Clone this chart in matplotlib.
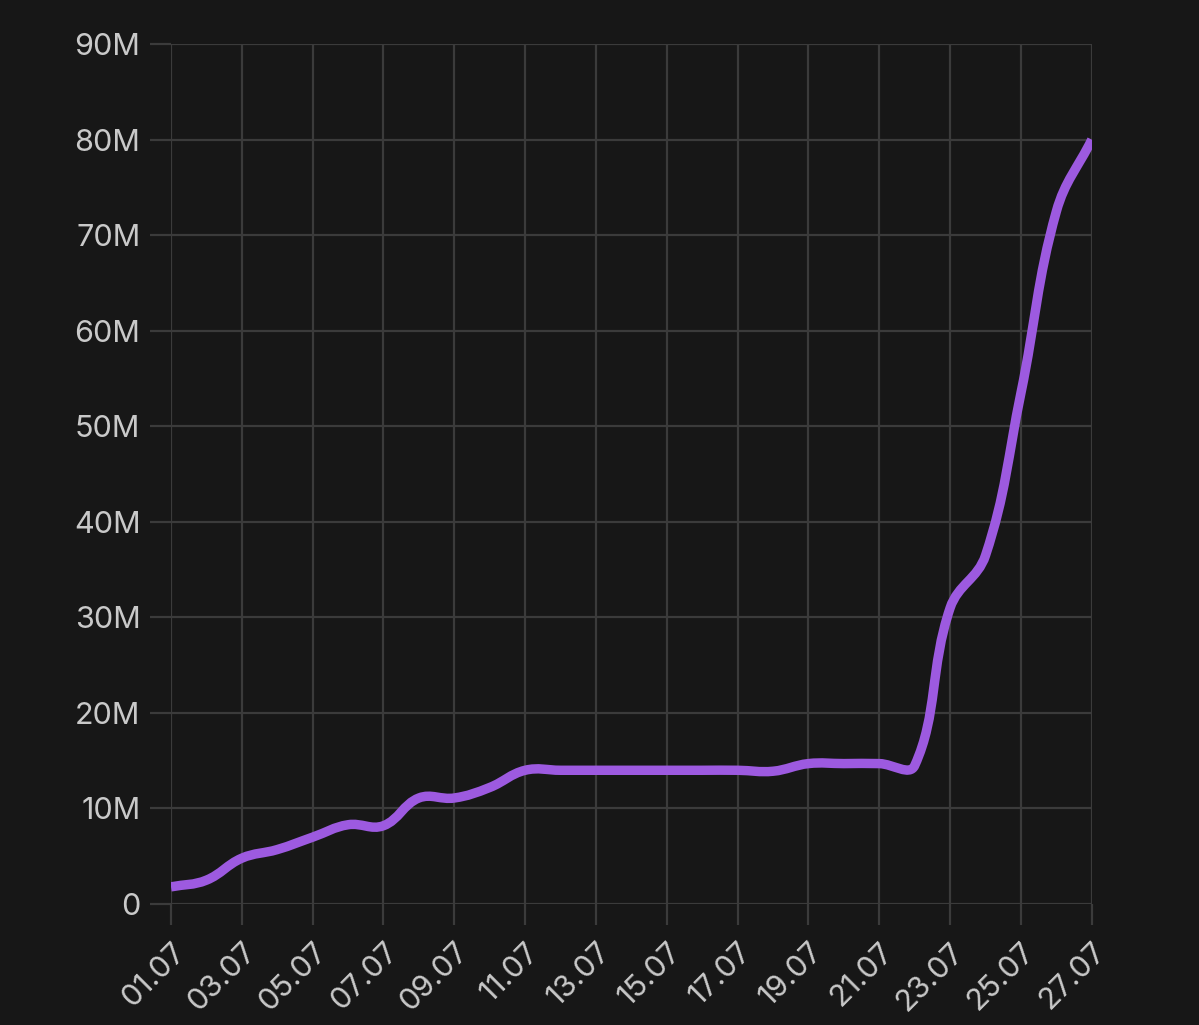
import matplotlib
matplotlib.use('Agg')
import matplotlib.pyplot as plt
from matplotlib.path import Path
from matplotlib.patches import PathPatch
from matplotlib.ticker import FuncFormatter
import numpy as np

# daily values (millions), 01.07 - 27.07
days = list(range(1, 28))
values = [1.8, 2.5, 4.8, 5.7, 7.0, 8.3, 8.2, 11.1, 11.1, 12.2, 14.0, 14.0, 14.0,
          14.0, 14.0, 14.0, 14.0, 13.9, 14.7, 14.7, 14.7, 14.5, 31.0, 36.5,
          53.5, 72.5, 80.0]
tick_days = list(range(1, 28, 2))
tick_labels = ['%02d.07' % d for d in tick_days]

bg = '#171717'
grid_col = '#3b3b3b'
txt_col = '#c9c9c9'
line_col = '#9d5ae0'

plt.rcParams['font.family'] = ['Inter', 'DejaVu Sans']

fig = plt.figure(figsize=(11.99, 10.25), dpi=100, facecolor=bg)
ax = fig.add_axes([0.1426, 0.118, 0.768, 0.839])
ax.set_facecolor(bg)
ax.set_xlim(1, 27)
ax.set_ylim(0, 90e6)

# smooth line through the daily points (bezier, tension 0.4, weighted by screen distance)
x = np.array(days, dtype=float)
y = np.array(values) * 1e6
sx, sy = 35.4, 9.556e-6   # px per day / px per unit, only for the distance weights
t = 0.4
n = len(x)
cp_in = [None] * n
cp_out = [None] * n
for i in range(n):
    a = max(i - 1, 0)
    b = min(i + 1, n - 1)
    d01 = np.hypot((x[i] - x[a]) * sx, (y[i] - y[a]) * sy)
    d12 = np.hypot((x[b] - x[i]) * sx, (y[b] - y[i]) * sy)
    tot = d01 + d12
    fa = t * d01 / tot if tot else 0
    fb = t * d12 / tot if tot else 0
    dx, dy = x[b] - x[a], y[b] - y[a]
    cp_in[i] = (x[i] - fa * dx, y[i] - fa * dy)
    cp_out[i] = (x[i] + fb * dx, y[i] + fb * dy)
verts = [(x[0], y[0])]
codes = [Path.MOVETO]
for i in range(n - 1):
    verts += [cp_out[i], cp_in[i + 1], (x[i + 1], y[i + 1])]
    codes += [Path.CURVE4] * 3
patch = PathPatch(Path(verts, codes), facecolor='none', edgecolor=line_col,
                  lw=6.8, capstyle='butt', joinstyle='round', zorder=3)
ax.add_patch(patch)

ax.set_yticks(np.arange(0, 91e6, 10e6))
ax.yaxis.set_major_formatter(FuncFormatter(lambda v, p: '0' if v == 0 else '%dM' % round(v / 1e6)))
ax.set_xticks(tick_days)
ax.set_xticklabels(tick_labels, rotation=45, ha='right', va='top', rotation_mode='anchor')

ax.grid(True, color=grid_col, lw=1.6)
ax.set_axisbelow(True)
for s in ax.spines.values():
    s.set_visible(False)
ax.tick_params(axis='both', colors=grid_col, labelcolor=txt_col, labelsize=22,
               length=15, width=1.6)
ax.tick_params(axis='y', pad=7)
ax.tick_params(axis='x', pad=9)

fig.savefig('out.png', dpi=100, facecolor=bg)
